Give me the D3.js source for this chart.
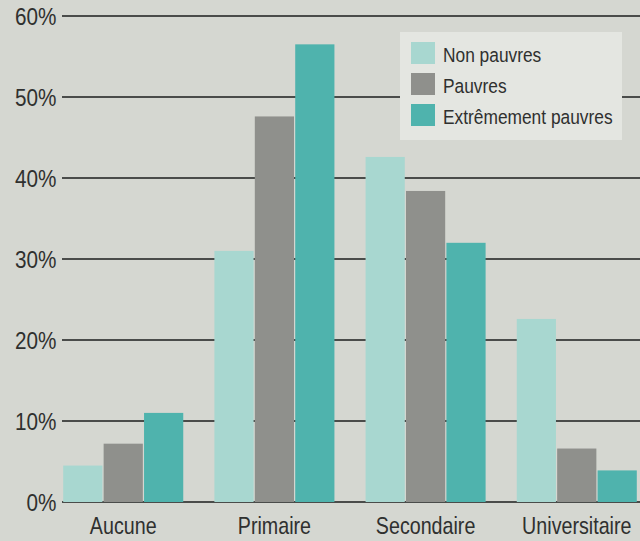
<!DOCTYPE html>
<html>
<head>
<meta charset="utf-8">
<script src="https://cdn.jsdelivr.net/npm/d3@7"></script>
<style>
  body { margin: 0; background: #d5d7d1; }
  svg { display: block; font-family: "Liberation Sans", Arial, sans-serif; }
</style>
</head>
<body>
<div id="chart"></div>
<script>
// data (percent)
let categories = ["Aucune", "Primaire", "Secondaire", "Universitaire"];
let seriesNames = ["Non pauvres", "Pauvres", "Extrêmement pauvres"];
let nonPauvres = [4.5, 31, 42.6, 22.6];
let pauvres = [7.2, 47.6, 38.4, 6.6];
let extremes = [11, 56.5, 32, 3.9];
let yTicks = [0, 10, 20, 30, 40, 50, 60];

let colors = ["#a8d7d0", "#8f908c", "#4fb3ad"];
let font = "Liberation Sans, Arial, sans-serif";

let width = 640;
let height = 541;

let svg = d3.select("#chart")
  .append("svg")
  .attr("width", width)
  .attr("height", height);

svg.append("rect")
  .attr("width", width)
  .attr("height", height)
  .attr("fill", "#d5d7d1");

// scales
let yScale = d3.scaleLinear()
  .domain([0, 60])
  .range([502, 16]);

let x0 = d3.scaleBand()
  .domain(categories)
  .range([62, 638])
  .paddingInner(0.19)
  .paddingOuter(0);

let x1 = d3.scaleBand()
  .domain(seriesNames)
  .range([0, x0.bandwidth()])
  .padding(0.03);

// gridlines
svg.append("g")
  .selectAll("line")
  .data(yTicks)
  .enter()
  .append("line")
  .attr("x1", 62)
  .attr("x2", width)
  .attr("y1", d => yScale(d))
  .attr("y2", d => yScale(d))
  .attr("stroke", "#4a4c4a")
  .attr("stroke-width", 2);

// y axis labels (narrowed like the condensed print font)
let yAxis = d3.axisLeft(yScale)
  .tickValues(yTicks)
  .tickSize(0)
  .tickPadding(3)
  .tickFormat(d => d + "%");

let yG = svg.append("g")
  .attr("transform", "translate(59,0)")
  .call(yAxis);
yG.select(".domain").remove();
yG.selectAll("text")
  .attr("font-size", "23px")
  .attr("font-family", font)
  .attr("fill", "#2f302f")
  .attr("dy", "0.38em")
  .attr("transform", "scale(0.9,1)");

// bars
let rows = categories.map((c, i) => ({
  cat: c,
  vals: [nonPauvres[i], pauvres[i], extremes[i]]
}));

let groups = svg.selectAll(".grp")
  .data(rows)
  .enter()
  .append("g")
  .attr("class", "grp")
  .attr("transform", d => `translate(${x0(d.cat)},0)`);

groups.selectAll("rect")
  .data(d => d.vals.map((v, j) => ({ name: seriesNames[j], value: v, j: j })))
  .enter()
  .append("rect")
  .attr("x", d => x1(d.name))
  .attr("y", d => yScale(d.value))
  .attr("width", x1.bandwidth())
  .attr("height", d => yScale(0) - yScale(d.value))
  .attr("fill", d => colors[d.j]);

// x axis labels
let xAxis = d3.axisBottom(x0).tickSize(0).tickPadding(13);
let xG = svg.append("g")
  .attr("transform", "translate(0,504)")
  .call(xAxis);
xG.select(".domain").remove();
xG.selectAll("text")
  .attr("font-size", "24px")
  .attr("font-family", font)
  .attr("fill", "#2f302f")
  .attr("transform", "scale(0.82,1)");

// legend
let legend = svg.append("g").attr("transform", "translate(400,32)");
legend.append("rect")
  .attr("width", 222)
  .attr("height", 108)
  .attr("fill", "#e4e6e1");

let items = legend.selectAll(".item")
  .data(seriesNames)
  .enter()
  .append("g")
  .attr("transform", (d, i) => `translate(11,${10 + i * 31})`);

items.append("rect")
  .attr("width", 24)
  .attr("height", 22)
  .attr("fill", (d, i) => colors[i]);

items.append("text")
  .attr("transform", "translate(32,13) scale(0.89,1)")
  .attr("dy", "0.35em")
  .attr("font-size", "19.5px")
  .attr("font-family", font)
  .attr("fill", "#2f302f")
  .text(d => d);
</script>
</body>
</html>
